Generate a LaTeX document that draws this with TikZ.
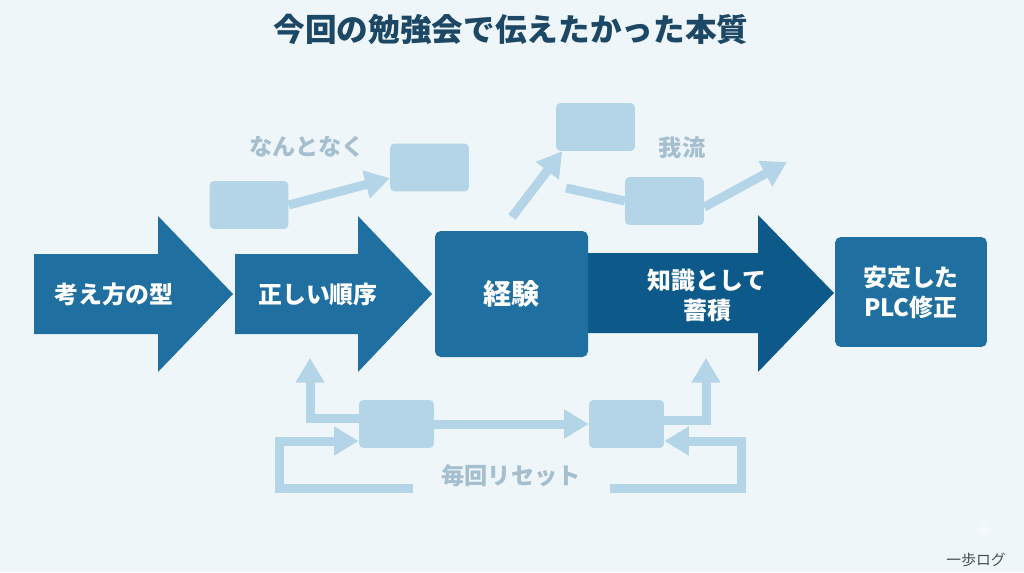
\documentclass[tikz,border=0pt]{standalone}
\usepackage{fontspec}
\setmainfont{Noto Sans CJK JP}
\usetikzlibrary{arrows.meta,calc,positioning}
\definecolor{bgpaper}{RGB}{238,246,250}
\definecolor{flowblue}{RGB}{31,111,160}
\definecolor{deepblue}{RGB}{13,90,138}
\definecolor{fadeblue}{RGB}{180,212,232}
\definecolor{fadetext}{RGB}{166,191,207}
\definecolor{titlenavy}{RGB}{28,72,102}
\definecolor{logogray}{RGB}{70,76,82}

\begin{document}
\begin{tikzpicture}[x=0.025cm, y=-0.025cm, font=\bfseries]
\tikzstyle{fadebox}=[fill=fadeblue, rounded corners=3pt, minimum width=56pt, minimum height=34pt, inner sep=0pt]
\tikzstyle{fadeline}=[draw=fadeblue, line width=6.4pt]
\tikzstyle{fadearrow}=[fadeline, -{Triangle[length=17.5pt,width=19.5pt]}]
\tikzstyle{fadelabel}=[text=fadetext, font=\bfseries\fontsize{16.5}{20}\selectfont]
\tikzstyle{flowtext}=[text=white, align=center, font=\bfseries\fontsize{17}{21.3}\selectfont]
\tikzstyle{flowbox}=[fill=flowblue, rounded corners=4pt, inner sep=0pt]
\fill[bgpaper] (0,0) rectangle (1024,572);
\useasboundingbox (0,0) rectangle (1024,572);

\node[text=titlenavy, font=\bfseries\fontsize{22.5}{26}\selectfont] (title) at (511,29) {今回の勉強会で伝えたかった本質};

\fill[flowblue] (34,254) -- (158,254) -- (158,216) -- (233,294) -- (158,372) -- (158,334) -- (34,334) -- cycle;
\fill[flowblue] (235,254) -- (358,254) -- (358,216) -- (432,294) -- (358,372) -- (358,334) -- (235,334) -- cycle;
\fill[deepblue] (580,253) -- (758,253) -- (758,215) -- (834,293) -- (758,372) -- (758,333) -- (580,333) -- cycle;

\node[flowtext] (kata) at (114,294) {考え方の型};
\node[flowtext] (junjo) at (318,294) {正しい順序};
\node[flowbox, flowtext, font=\bfseries\fontsize{20}{24}\selectfont, minimum width=108.8pt, minimum height=89.6pt] (keiken) at (511.5,294) {経験};
\node[flowtext] (chishiki) at (707,295) {知識として\\蓄積};
\node[flowbox, flowtext, minimum width=108pt, minimum height=78.2pt] (anteiPLC) at (911,292) {安定した\\PLC修正};

\node[fadebox] (nantoA) at (249,205) {};
\node[fadebox] (nantoB) at (429.5,167.5) {};
\node[fadebox] (garyuC) at (595.5,127) {};
\node[fadebox] (garyuD) at (664.5,201) {};
\node[fadebox, minimum width=53.3pt] (resetE) at (396.5,424) {};
\node[fadebox, minimum width=53.3pt] (resetF) at (626.5,424) {};

\node[fadelabel] (nantonaku) at (307,147) {なんとなく};
\node[fadelabel] (garyu) at (682,148) {我流};
\node[fadelabel] (reset) at (511,476) {毎回リセット};

\coordinate (upStart) at (512,217);
\coordinate (inStart) at (566,188);
\coordinate (outEnd) at (787,162);
\draw[fadearrow] (nantoA.east) -- ($(nantoB.north west)!0.72!(nantoB.south west)$);
\draw[fadearrow] (upStart) -- ($(garyuC.south west)!0.08!(garyuC.south east)$);
\draw[fadeline] (inStart) -- (garyuD.west);
\draw[fadearrow] ([yshift=-4.3pt]garyuD.east) -- (outEnd);

\coordinate (eUp) at (310,358);
\coordinate (eBack) at (279,441);
\coordinate (eLoop) at (413,488);
\coordinate (fUp) at (706,358);
\coordinate (fBack) at (741,441);
\coordinate (fLoop) at (610,488);
\draw[fadearrow] (resetE) -- (resetF);
\draw[fadearrow] ([yshift=3.6pt]resetE.west) -| (eUp);
\draw[fadearrow] (eLoop) -| (eBack) -- (eBack -| resetE.west);
\draw[fadearrow] ([yshift=2.8pt]resetF.east) -| (fUp);
\draw[fadearrow] (fLoop) -| (fBack) -- (fBack -| resetF.east);

\fill[white, opacity=0.35] (984,520) -- (987,527) -- (996,530) -- (987,533) -- (984,540) -- (981,533) -- (972,530) -- (981,527) -- cycle;
\node[text=logogray, font=\mdseries\fontsize{10.5}{12}\selectfont] (logo) at (976,560) {一歩ログ};
\end{tikzpicture}
\end{document}
